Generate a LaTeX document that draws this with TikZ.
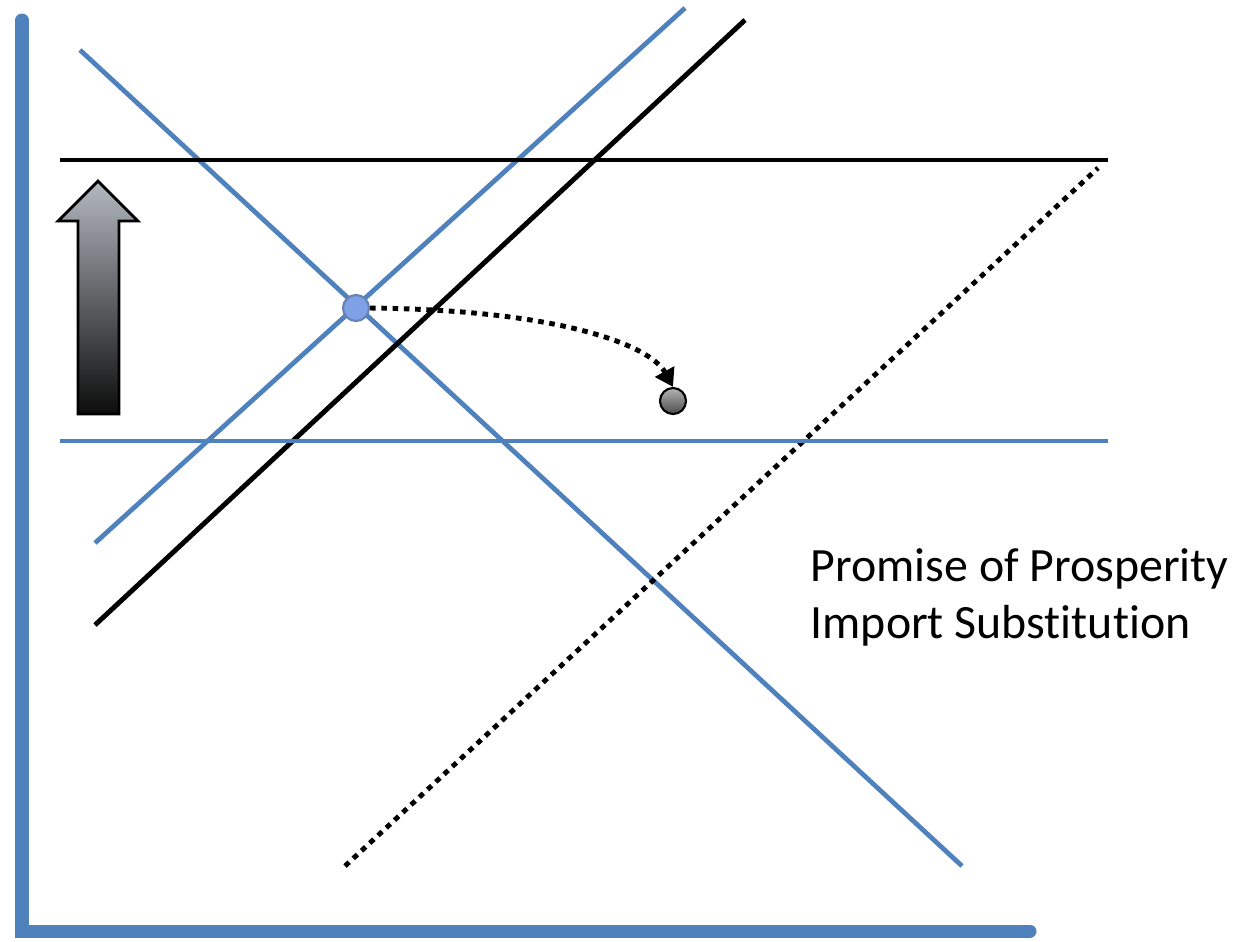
\documentclass[tikz,border=0pt]{standalone}
\usepackage{fontspec}
\setmainfont{Carlito}[Ligatures=NoCommon]
\usetikzlibrary{arrows.meta}

\definecolor{axisblue}{HTML}{4F81BD}
\definecolor{arrowgray}{HTML}{B4B8C0}
\definecolor{dotblue}{HTML}{7EA0E4}

\tikzset{
  axis line/.style={axisblue, line width=3.7pt, line cap=round},
  blue curve/.style={axisblue, line width=1.35pt},
  black curve/.style={black, line width=1.4pt},
  dotted curve/.style={black, line width=1.4pt, dash pattern=on 1.6pt off 1.6pt},
  market dot/.style={circle, draw, line width=0.6pt, minimum size=0.26cm, inner sep=0pt}
}

\begin{document}
\begin{tikzpicture}[x=0.01cm, y=-0.01cm]
	\useasboundingbox (0,0) rectangle (1237,941);

	% axes
	\coordinate (top) at (22,20);
	\coordinate (origin) at (22,931);
	\coordinate (right) at (1030,931);
	\draw[axis line] (top) -- (origin) -- (right);

	% demand and supply lines
	\coordinate (d1) at (80,50);   \coordinate (d2) at (962,866);
	\coordinate (s1) at (95,543);  \coordinate (s2) at (685,8);
	\coordinate (t1) at (95,625);  \coordinate (t2) at (745,20);
	\coordinate (w1) at (345,866); \coordinate (w2) at (1098,168);
	\draw[blue curve] (d1) -- (d2);
	\draw[blue curve] (s1) -- (s2);
	\draw[black curve] (t1) -- (t2);
	\draw[dotted curve] (w1) -- (w2);

	% price levels
	\coordinate (high1) at (60,160);  \coordinate (high2) at (1108,160);
	\coordinate (low1) at (60,441);   \coordinate (low2) at (1108,441);
	\draw[black curve] (high1) -- (high2);
	\draw[blue curve] (low1) -- (low2);

	% rising price arrow
	\draw[line width=0.8pt, top color=arrowgray, bottom color=black!95, shading angle=0]
		(78,414) -- (78,221) -- (58,221) -- (98,181) -- (138,221) -- (119,221) -- (119,414) -- cycle;

	% old and new points
	\node[market dot, draw=dotblue!80!black, fill=dotblue] (old) at (356,308) {};
	\node[market dot, draw=black, top color=gray!60, bottom color=black!70] (new) at (673,401) {};
	\draw[dotted curve, -{Triangle[length=5pt, width=6pt]}] (old.east) .. controls (560,310) and (650,345) .. (new.north);

	\node[anchor=base west, align=left, inner sep=0pt, font=\fontsize{13.6pt}{16.2pt}\selectfont] (label) at (810,638)
		{Promise of Prosperity\\Import Substitution};
\end{tikzpicture}
\end{document}
